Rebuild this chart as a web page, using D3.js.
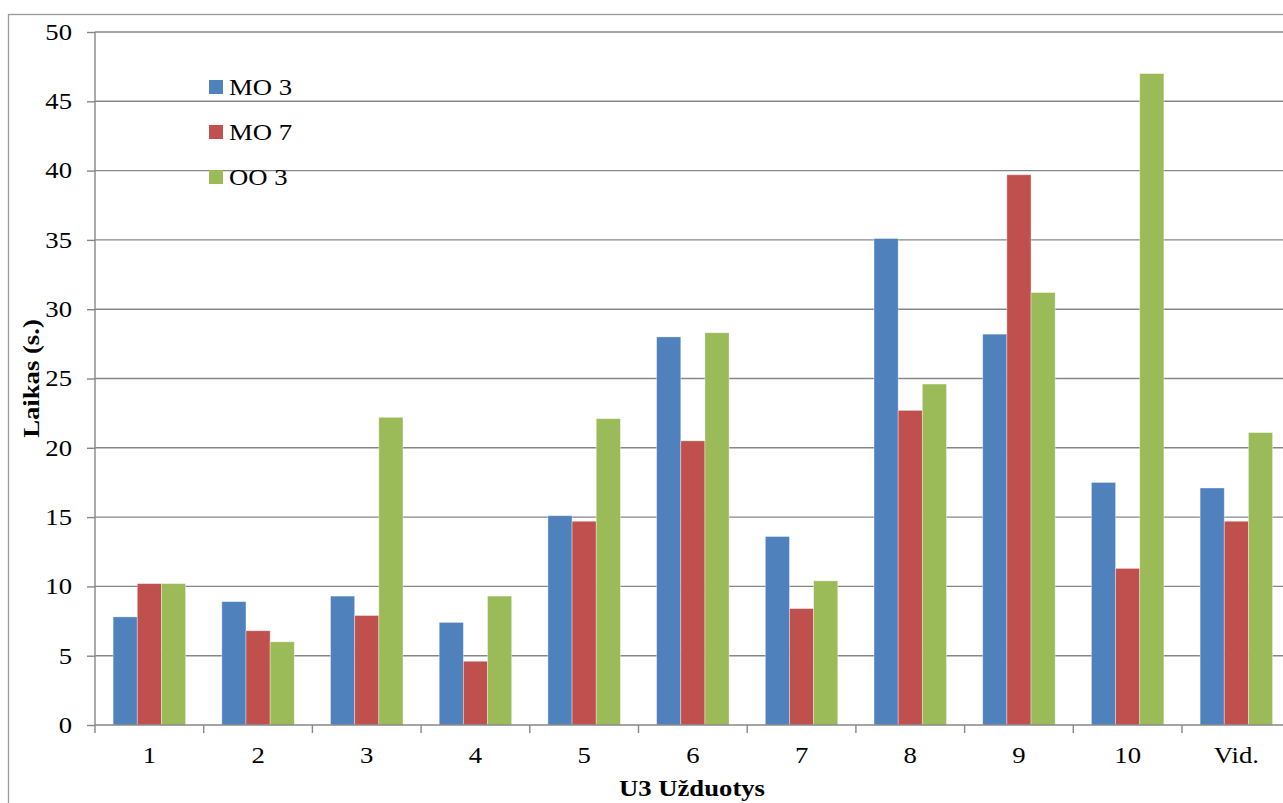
<!DOCTYPE html>
<html>
<head>
<meta charset="utf-8">
<script src="https://cdn.jsdelivr.net/npm/d3@7"></script>
<style>
  html, body { margin: 0; padding: 0; background: #fff; overflow: hidden; }
  svg { display: block; }
  svg text { font-family: "Liberation Serif", "Times New Roman", serif; }
</style>
</head>
<body>
<svg id="chart" width="1283" height="803"></svg>
<script>
const categories = ["1", "2", "3", "4", "5", "6", "7", "8", "9", "10", "Vid."];
const seriesNames = ["MO 3", "MO 7", "OO 3"];
const mo3 = [7.8, 8.9, 9.3, 7.4, 15.1, 28.0, 13.6, 35.1, 28.2, 17.5, 17.1];
const mo7 = [10.2, 6.8, 7.9, 4.6, 14.7, 20.5, 8.4, 22.7, 39.7, 11.3, 14.7];
const oo3 = [10.2, 6.0, 22.2, 9.3, 22.1, 28.3, 10.4, 24.6, 31.2, 47.0, 21.1];
const yTicks = [0, 5, 10, 15, 20, 25, 30, 35, 40, 45, 50];
const colors = ["#4F81BD", "#C0504D", "#9BBB59"];
const xTitle = "U3 Užduotys";
const yTitle = "Laikas (s.)";

(function () {
const seriesValues = [mo3, mo7, oo3];
const svg = d3.select("#chart");
const FONT = "'Liberation Serif', 'Times New Roman', serif";
const STRETCH = 1.16;

const mLeft = 95, mTop = 32, mBottom = 725, mRight = 1290.7;

// outer frame
svg.append("rect").attr("x", 8.5).attr("y", 14.5).attr("width", 1300).attr("height", 900)
  .attr("fill", "none").attr("stroke", "#9a9a9a").attr("stroke-width", 1.3);

const x = d3.scaleBand().domain(categories).range([mLeft, mRight]).paddingInner(0).paddingOuter(0);
const y = d3.scaleLinear().domain([0, 50]).range([mBottom, mTop]);
const barW = x.bandwidth() / 4.5;
const xs = d3.scaleBand().domain(seriesNames).range([barW * 0.75, barW * 3.75]).padding(0);

// gridlines
svg.append("g").selectAll("line").data(yTicks.filter(d => d > 0)).join("line")
  .attr("x1", mLeft).attr("x2", 1283)
  .attr("y1", d => y(d)).attr("y2", d => y(d))
  .attr("stroke", "#878787").attr("stroke-width", 1.4);

// bars
const groups = svg.append("g").selectAll("g").data(seriesNames).join("g")
  .attr("fill", (d, i) => colors[i]);
groups.each(function(name, si) {
  d3.select(this).selectAll("rect").data(seriesValues[si]).join("rect")
    .attr("x", (d, i) => x(categories[i]) + xs(name))
    .attr("width", xs.bandwidth())
    .attr("y", d => y(d))
    .attr("height", d => mBottom - y(d))
    .attr("stroke", "rgba(255,255,255,0.45)").attr("stroke-width", 0.8);
});

// y axis
const yAxis = d3.axisLeft(y).tickValues(yTicks).tickSize(8).tickPadding(15).tickFormat(d3.format("d"));
const gy = svg.append("g").attr("transform", `translate(${mLeft},0)`).call(yAxis);
gy.attr("font-family", FONT);
gy.select(".domain").attr("stroke", "#878787").attr("stroke-width", 1.4).attr("d", `M0,${mTop}V${mBottom}`);
gy.selectAll(".tick line").attr("stroke", "#878787").attr("stroke-width", 1.4);
gy.selectAll(".tick text").attr("font-size", 23).attr("fill", "#000");

// x axis
const xAxis = d3.axisBottom(x).tickSize(0).tickPadding(22);
const gx = svg.append("g").attr("transform", `translate(0,${mBottom})`).call(xAxis);
gx.attr("font-family", FONT);
gx.select(".domain").attr("stroke", "#878787").attr("stroke-width", 1.4).attr("d", `M${mLeft},0H1283`);
gx.selectAll(".tick text").attr("font-size", 23).attr("fill", "#000");
// category boundary tick marks
svg.append("g").selectAll("line").data(categories).join("line")
  .attr("x1", d => x(d)).attr("x2", d => x(d))
  .attr("y1", mBottom).attr("y2", mBottom + 8)
  .attr("stroke", "#878787").attr("stroke-width", 1.4);

// axis titles
svg.append("text").attr("class", "st").attr("x", 692).attr("y", 796).attr("text-anchor", "middle")
  .attr("font-size", 23).attr("font-weight", "bold").text(xTitle);
svg.append("text").attr("class", "st").attr("transform", `translate(39,${(mTop + mBottom) / 2}) rotate(-90)`)
  .attr("text-anchor", "middle").attr("font-size", 23).attr("font-weight", "bold").text(yTitle);

// legend
const lg = svg.append("g").selectAll("g").data(seriesNames).join("g")
  .attr("transform", (d, i) => `translate(209,${87 + i * 45})`);
lg.append("rect").attr("x", 0).attr("y", -7).attr("width", 14).attr("height", 14)
  .attr("fill", (d, i) => colors[i]);
lg.append("text").attr("x", 20).attr("y", 0).attr("dy", "0.35em").attr("font-size", 23)
  .attr("fill", "#000").text(d => d);

// widen glyphs to match the reference's wider letterforms
svg.selectAll("text").each(function () {
  const w = this.getComputedTextLength();
  d3.select(this).attr("textLength", w * STRETCH).attr("lengthAdjust", "spacingAndGlyphs");
});
})();
</script>
</body>
</html>
